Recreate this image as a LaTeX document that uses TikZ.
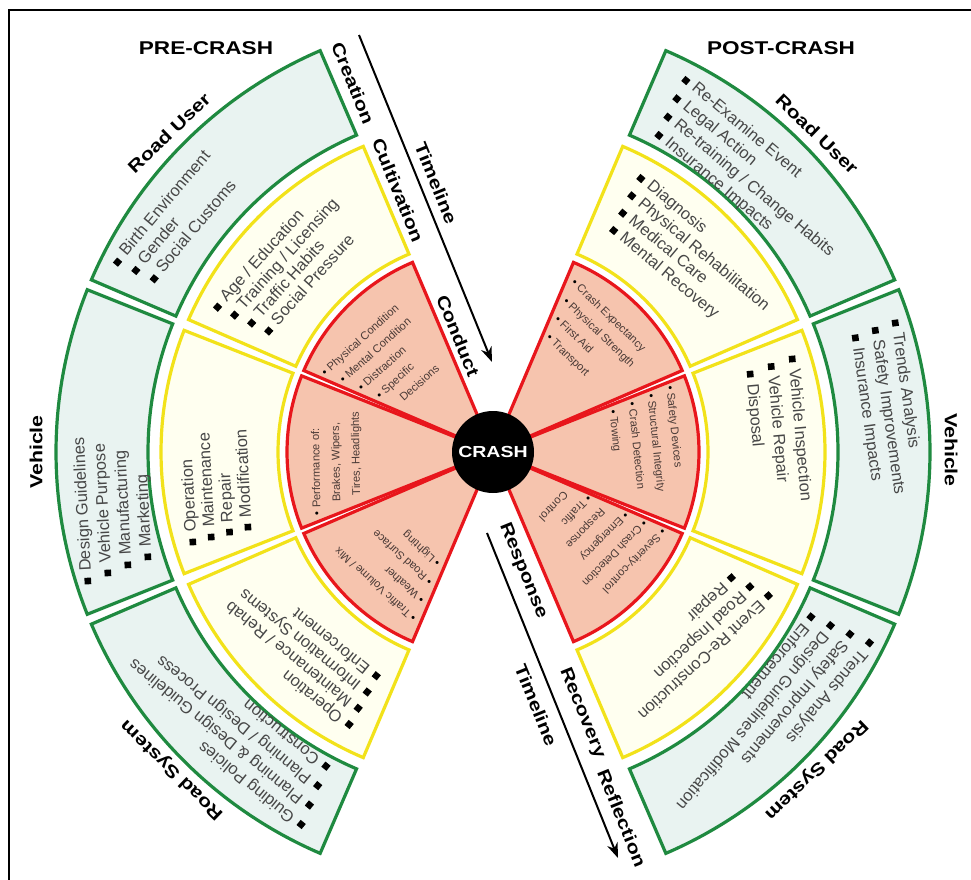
\documentclass[tikz,border=0pt]{standalone}
\usepackage{fontspec}
\setmainfont{Liberation Sans}
\newfontfamily\widebf{Liberation Sans}[FakeStretch=1.22]
\usetikzlibrary{calc,arrows.meta}
\definecolor{gline}{HTML}{1F8A40}
\definecolor{gfill}{HTML}{E9F3F1}
\definecolor{yline}{HTML}{F2E21A}
\definecolor{yfill}{HTML}{FFFFF0}
\definecolor{rline}{HTML}{E8161C}
\definecolor{rfill}{HTML}{F6C4AE}
\definecolor{itemgray}{HTML}{474747}
\definecolor{reditem}{HTML}{4A3A36}
\newcommand{\sqb}{{\color{black}\rule[0.02em]{0.4em}{0.4em}}\hspace{0.4em}}
\newcommand{\dtb}{{\color{black}•}\hspace{0.3em}}
\newcommand{\ndt}{\phantom{•}\hspace{0.3em}}
% annular sector: style, a1, a2, r1, r2
\newcommand{\annsect}[5]{%
  \path[#1] ($(C)+(#2:#5pt)$) arc[start angle=#2, end angle=#3, radius=#5pt]
    -- ($(C)+(#3:#4pt)$) arc[start angle=#3, end angle=#2, radius=#4pt] -- cycle;}
% wedge: style, a1, a2, r
\newcommand{\wedgesect}[4]{%
  \path[#1] (C) -- ($(C)+(#2:#4pt)$) arc[start angle=#2, end angle=#3, radius=#4pt] -- cycle;}
% list: name, X, Y (first bullet centre, screen px), rot, spacing, stagger, style, items
\newcommand{\blist}[8]{%
  \foreach \ltext [count=\cnt from 0] in {#8} {
    \node[#7, rotate=#4, anchor=base west, inner sep=0pt] (#1-\cnt)
      at ($(#2,-#3) + ({#4+180}:2.5pt) + ({#4-90}:3.5pt) + ({#4-90}:{\cnt*#5pt}) + ({#4}:{\cnt*#6pt})$) {\ltext};
  }}
\begin{document}
\begin{tikzpicture}[x=1pt,y=1pt,
  gsec/.style={draw=gline, fill=gfill, line width=3.2pt},
  ysec/.style={draw=yline, fill=yfill, line width=3.2pt},
  rsec/.style={draw=rline, fill=rfill, line width=3.2pt},
  itm/.style={font=\fontsize{16.5}{19}\selectfont, text=itemgray},
  ritm/.style={font=\fontsize{11.2}{12}\selectfont, text=reditem},
  lbl/.style={font=\widebf\bfseries\fontsize{17.5}{20}\selectfont},
  ttl/.style={font=\widebf\bfseries\fontsize{18.5}{22}\selectfont},
  tline/.style={line width=2pt, -{Stealth[length=15pt,width=11pt]}},
  crash/.style={circle, fill=black, minimum size=82pt, inner sep=0pt, text=white,
    font=\widebf\bfseries\fontsize{16}{16}\selectfont}]
\useasboundingbox (0,0) rectangle (971,-880);
\fill[white] (0,0) rectangle (971,-880);
\coordinate (C) at (493,-452);
% frame
\draw[line width=2pt] (9,-880) -- (9,-10) -- (971,-10);
% rings
\foreach \a/\b in {113.3/156.8, 158.2/201.8, 203.2/246.7, -66.7/-23.2, -21.8/21.8, 23.2/66.7}
  {\annsect{gsec}{\a}{\b}{345}{437}}
\foreach \a/\b in {113/156.5, 158.5/201.5, 203.5/247, -67/-23.5, -21.5/21.5, 23.5/67}
  {\annsect{ysec}{\a}{\b}{215}{332}}
\foreach \a/\b in {113/156.7, 158.3/201.7, 203.3/247, -67/-23.3, -21.7/21.7, 23.3/67}
  {\wedgesect{rsec}{\a}{\b}{206}}
\node[crash] (crash) at (C) {CRASH};
% titles
\node[ttl] (pre) at (206,-48.5) {PRE-CRASH};
\node[ttl] (post) at (781,-48) {POST-CRASH};
\node[lbl, rotate=44] (lru) at (169,-133) {Road User};
\node[lbl, rotate=90] (lv) at (36,-452) {Vehicle};
\node[lbl, rotate=136] (lrs) at (172,-770) {Road System};
\node[lbl, rotate=-44] (rru) at (817,-134) {Road User};
\node[lbl, rotate=-90] (rv) at (951,-450) {Vehicle};
\node[lbl, rotate=-136] (rrs) at (816,-770) {Road System};
% timeline
\coordinate (t1s) at (359,-35);
\coordinate (t1e) at (492,-362);
\coordinate (t2s) at (487,-533);
\coordinate (t2e) at (618,-858);
\draw[tline] (t1s) -- (t1e);
\draw[tline] (t2s) -- (t2e);
\node[lbl, rotate=-68] (creation) at (353,-83) {Creation};
\node[lbl, rotate=-68] (cultivation) at (398,-190) {Cultivation};
\node[lbl, rotate=-68] (tl1) at (436,-183) {Timeline};
\node[lbl, rotate=-68] (conduct) at (458,-336) {Conduct};
\node[lbl, rotate=-68] (response) at (523,-571) {Response};
\node[lbl, rotate=-68] (tl2) at (536,-705) {Timeline};
\node[lbl, rotate=-68] (recovery) at (582,-713) {Recovery};
\node[lbl, rotate=-68] (reflection) at (622,-818) {Reflection};
% lists, pre-crash
\blist{lrug}{117}{263}{50}{19.4}{5.4}{itm}{{\sqb Birth Environment},{\sqb Gender},{\sqb Social Customs}}
\blist{lruy}{217}{308}{48}{18}{5.5}{itm}{{\sqb Age / Education},{\sqb Training / Licensing},{\sqb Traffic Habits},{\sqb Social Pressure}}
\blist{lrur}{325}{372}{42}{17.9}{8.4}{ritm}{{\dtb Physical Condition},{\dtb Mental Condition},{\dtb Distraction},{\dtb Specific},{\ndt Decisions}}
\blist{lvg}{88}{582}{93}{20.4}{7}{itm}{{\sqb Design Guidelines},{\sqb Vehicle Purpose},{\sqb Manufacturing},{\sqb Marketing}}
\blist{lvy}{193}{543}{93}{18.6}{4}{itm}{{\sqb Operation},{\sqb Maintenance},{\sqb Repair},{\sqb Modification}}
\blist{lvr}{317}{513}{91}{20}{6}{ritm}{{\dtb Performance of:},{\ndt Brakes, Wipers,},{\ndt Tires, Headlights}}
\blist{lrsg}{302}{825}{141}{20.3}{5.8}{itm}{{\sqb Guiding Policies},{\sqb Planning \& Design Guidelines},{\sqb Planning / Design Process},{\sqb Construction}}
\blist{lrsy}{350}{725}{141}{18.3}{3.2}{itm}{{\sqb Operation},{\sqb Maintenance / Rehab},{\sqb Information Systems},{\sqb Enforcement}}
\blist{lrsr}{413}{618}{138}{19}{6.3}{ritm}{{\dtb Traffic Volume / Mix},{\dtb Weather},{\dtb Road Surface},{\dtb Lighting}}
% lists, post-crash
\blist{rrug}{685}{80}{-40}{19.8}{4.9}{itm}{{\sqb Re-Examine Event},{\sqb Legal Action},{\sqb Re-training / Change Habits},{\sqb Insurance Impacts}}
\blist{rruy}{640}{178}{-40}{19.1}{4.2}{itm}{{\sqb Diagnosis},{\sqb Physical Rehabilitation},{\sqb Medical Care},{\sqb Mental Recovery}}
\blist{rrur}{575}{283}{-44}{19}{6.7}{ritm}{{\dtb Crash Expectancy},{\dtb Physical Strength},{\dtb First Aid},{\dtb Transport}}
\blist{rvg}{895}{322}{-82}{20.8}{4.6}{itm}{{\sqb Trends Analysis},{\sqb Safety Improvements},{\sqb Insurance Impacts}}
\blist{rvy}{792}{358}{-85}{21.6}{5.7}{itm}{{\sqb Vehicle Inspection},{\sqb Vehicle Repair},{\sqb Disposal}}
\blist{rvr}{670}{388}{-84}{19.7}{6}{ritm}{{\dtb Safety Devices},{\dtb Structural Integrity},{\dtb Crash Detection},{\dtb Towing}}
\blist{rrsg}{870}{642}{-130}{20.5}{5.9}{itm}{{\sqb Trends Analysis},{\sqb Safety Improvements},{\sqb Design Guidelines Modification},{\sqb Enforcement}}
\blist{rrsy}{769}{595}{-137}{19.2}{7.4}{itm}{{\sqb Event Re-Construction},{\sqb Road Inspection},{\sqb Repair}}
\blist{rrsr}{662}{532}{-134}{19.2}{6.8}{ritm}{{\dtb Severity-control},{\dtb Crash Detection},{\dtb Emergency},{\ndt Response},{\dtb Traffic},{\ndt Control}}
\end{tikzpicture}
\end{document}
